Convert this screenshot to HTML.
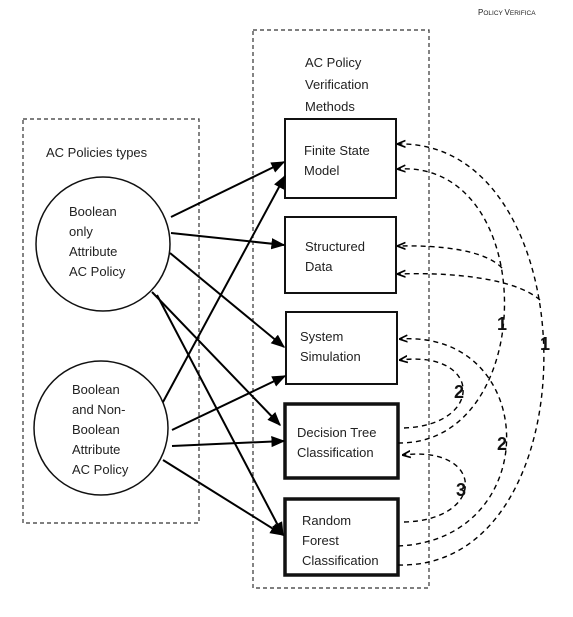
<!DOCTYPE html>
<html><head><meta charset="utf-8"><style>
html,body{margin:0;padding:0;background:#fff;}
svg{display:block;}
text{font-family:"Liberation Sans",sans-serif;font-size:13px;fill:#222;}
.b{font-weight:bold;font-size:18px;fill:#111;}
</style></head><body>
<svg width="573" height="617" viewBox="0 0 573 617" xmlns="http://www.w3.org/2000/svg">
<defs>
<marker id="a" viewBox="0 0 10 10" refX="9" refY="5" markerWidth="7" markerHeight="7" orient="auto"><path d="M0,1 L10,5 L0,9 z" fill="#000"/></marker>
<marker id="d" viewBox="0 0 10 10" refX="9" refY="5" markerWidth="6" markerHeight="6" orient="auto"><path d="M0,1 L10,5 L0,9" fill="none" stroke="#000" stroke-width="2"/></marker>
</defs>
<text x="478" y="15" style="font-size:8px">P<tspan style="font-size:6.5px">OLICY </tspan>V<tspan style="font-size:6.5px">ERIFICA</tspan></text>
<g fill="none" stroke="#333" stroke-width="1.2" stroke-dasharray="4,3">
<rect x="253" y="30" width="176" height="558"/>
<rect x="23" y="119" width="176" height="404"/>
</g>
<text x="305" y="67">AC Policy</text>
<text x="305" y="89">Verification</text>
<text x="305" y="111">Methods</text>
<text x="46" y="157">AC Policies types</text>
<g fill="#fff" stroke="#111" stroke-width="1.5">
<circle cx="103" cy="244" r="67"/>
<circle cx="101" cy="428" r="67"/>
</g>
<text x="69" y="216">Boolean</text><text x="69" y="236">only</text><text x="69" y="256">Attribute</text><text x="69" y="276">AC Policy</text>
<text x="72" y="394">Boolean</text><text x="72" y="414">and Non-</text><text x="72" y="434">Boolean</text><text x="72" y="454">Attribute</text><text x="72" y="474">AC Policy</text>
<g fill="#fff" stroke="#111">
<rect x="285" y="119" width="111" height="79" stroke-width="2"/>
<rect x="285" y="217" width="111" height="76" stroke-width="2"/>
<rect x="286" y="312" width="111" height="72" stroke-width="2"/>
<rect x="285" y="404" width="113" height="74" stroke-width="3.5"/>
<rect x="285" y="499" width="113" height="76" stroke-width="3.5"/>
</g>
<text x="304" y="155">Finite State</text><text x="304" y="175">Model</text>
<text x="305" y="251">Structured</text><text x="305" y="271">Data</text>
<text x="300" y="341">System</text><text x="300" y="361">Simulation</text>
<text x="297" y="437">Decision Tree</text><text x="297" y="457">Classification</text>
<text x="302" y="525">Random</text><text x="302" y="545">Forest</text><text x="302" y="565">Classification</text>
<g stroke="#000" stroke-width="2" marker-end="url(#a)">
<line x1="171" y1="217" x2="284" y2="162"/>
<line x1="171" y1="233" x2="284" y2="245"/>
<line x1="170" y1="253" x2="284" y2="347"/>
<line x1="152" y1="292" x2="280" y2="425"/>
<line x1="157" y1="295" x2="283" y2="535"/>
<line x1="163" y1="402" x2="285" y2="176"/>
<line x1="172" y1="430" x2="285" y2="376"/>
<line x1="172" y1="446" x2="284" y2="441"/>
<line x1="163" y1="460" x2="283" y2="535"/>
</g>
<g fill="none" stroke="#000" stroke-width="1.4" stroke-dasharray="5,4">
<path d="M398,565 C595,570 590,140 398,144" marker-end="url(#d)"/>
<path d="M398,443 C540,445 540,160 398,169" marker-end="url(#d)"/>
<path d="M502,268 C485,250 440,245 398,246" marker-end="url(#d)"/>
<path d="M540,300 C515,278 450,272 398,274" marker-end="url(#d)"/>
<path d="M398,546 C545,540 540,330 400,339" marker-end="url(#d)"/>
<path d="M404,428 C485,425 482,350 400,360" marker-end="url(#d)"/>
<path d="M404,522 C487,520 485,445 403,455" marker-end="url(#d)"/>
</g>
<text class="b" x="497" y="330">1</text>
<text class="b" x="540" y="350">1</text>
<text class="b" x="454" y="398">2</text>
<text class="b" x="497" y="450">2</text>
<text class="b" x="456" y="496">3</text>
</svg>
</body></html>
